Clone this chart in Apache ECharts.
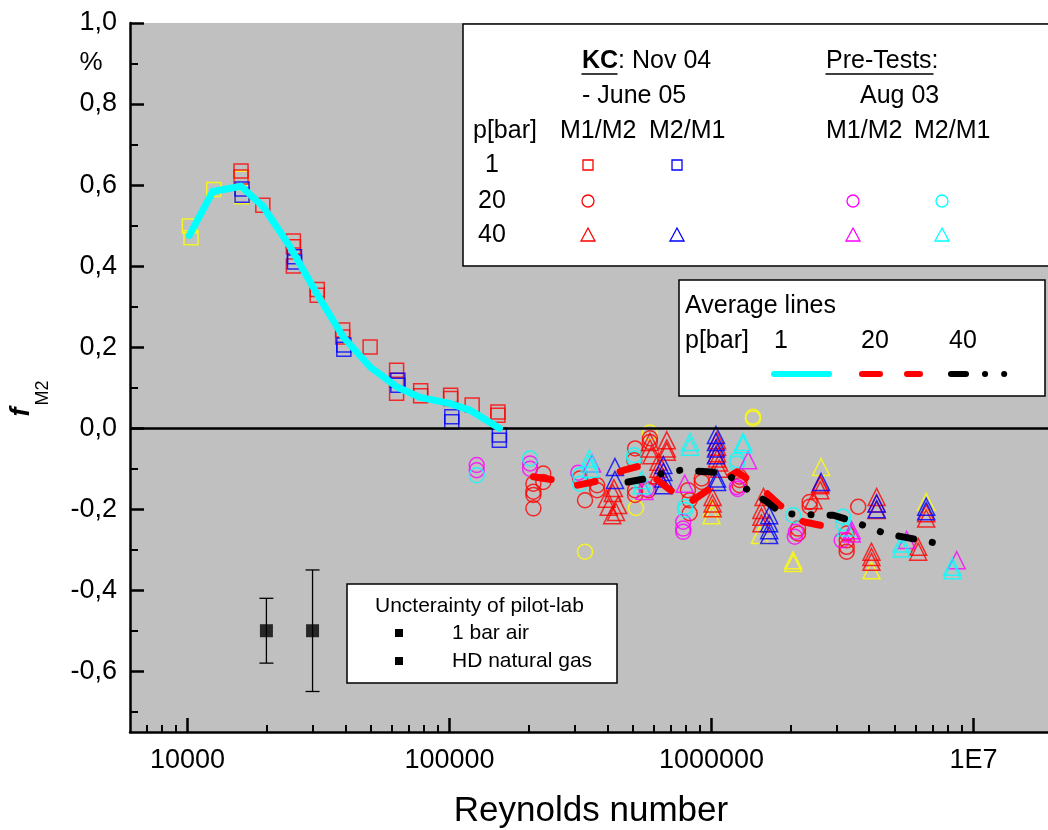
<!DOCTYPE html>
<html><head><meta charset="utf-8">
<script src="https://cdn.jsdelivr.net/npm/echarts@6/dist/echarts.min.js"></script>
<style>html,body{margin:0;padding:0;background:#fff}#c{width:1048px;height:830px}</style>
</head><body><div id="c"></div><script>
// ---------- axis ticks ----------
const xMajorTicks = [10000, 100000, 1000000, 10000000];
const xMinorTicks = [7000, 8000, 9000,
  20000, 30000, 40000, 50000, 60000, 70000, 80000, 90000,
  200000, 300000, 400000, 500000, 600000, 700000, 800000, 900000,
  2000000, 3000000, 4000000, 5000000, 6000000, 7000000, 8000000, 9000000];
const yMajorTicks = [-0.6, -0.4, -0.2, 0, 0.2, 0.4, 0.6, 0.8, 1.0];
const yMinorTicks = [-0.7, -0.5, -0.3, -0.1, 0.1, 0.3, 0.5, 0.7, 0.9];

// ---------- data: [Reynolds number, f_M2 (%)] ----------
const yellowSquares = [[10160,0.499],[10310,0.47],[12590,0.589],[16000,0.617],[16050,0.571]];
const kc1M1M2 = [[16000,0.635],[16000,0.62],[19380,0.55],[25350,0.462],[25350,0.448],[25350,0.40],
  [31260,0.342],[31260,0.328],[39100,0.242],[39100,0.225],[49760,0.20],[62800,0.143],[62800,0.118],
  [62800,0.086],[77600,0.092],[77600,0.08],[101000,0.081],[101000,0.073],[122000,0.057],[153000,0.04],[153000,0.032]];
const kc1M2M1 = [[16140,0.59],[16140,0.575],[25600,0.423],[25600,0.41],[39500,0.205],[39500,0.195],
  [63500,0.118],[63500,0.106],[102000,0.028],[102000,0.016],[155000,-0.017],[155000,-0.03]];
const kc20M1M2 = [[209000,-0.137],[209000,-0.157],[209000,-0.165],[209000,-0.198],[228000,-0.112],[228000,-0.133],
  [315000,-0.124],[329000,-0.178],[366000,-0.141],[366000,-0.153],[511000,-0.05],[507000,-0.079],
  [511000,-0.153],[511000,-0.165],[574000,-0.153],[582000,-0.025],[582000,-0.034],[813000,-0.153],
  [825000,-0.178],[825000,-0.21],[918000,-0.124],[918000,-0.133],[1280000,-0.12],[1280000,-0.128],
  [1280000,-0.141],[2140000,-0.248],[2140000,-0.26],[2370000,-0.182],[2370000,-0.194],[3630000,-0.194],
  [3280000,-0.26],[3280000,-0.277],[3280000,-0.293],[3280000,-0.305]];
const pre20M1M2 = [[127000,-0.091],[127000,-0.104],[203000,-0.087],[203000,-0.1],[310000,-0.11],[565000,-0.15],
  [780000,-0.231],[780000,-0.248],[780000,-0.256],[1250000,-0.145],[1260000,-0.15],[2080000,-0.268],
  [2100000,-0.256],[3140000,-0.277]];
const pre20M2M1 = [[127000,-0.116],[203000,-0.075],[315000,-0.116],[315000,-0.137],[507000,-0.067],[507000,-0.075],
  [793000,-0.194],[793000,-0.202],[1250000,-0.079],[1250000,-0.087],[2050000,-0.215],[3180000,-0.219],[3180000,-0.235]];
const kc40M1M2 = [[398000,-0.174],[405000,-0.194],[418000,-0.215],[432000,-0.207],[440000,-0.19],[420000,-0.16],
  [424000,-0.148],[582000,-0.034],[582000,-0.05],[590000,-0.067],[627000,-0.083],[627000,-0.1],[627000,-0.116],
  [675000,-0.03],[675000,-0.05],[675000,-0.058],[1050000,-0.03],[1050000,-0.046],[1050000,-0.062],
  [1050000,-0.075],[1070000,-0.085],[1070000,-0.1],[1010000,-0.17],[1010000,-0.186],[1010000,-0.198],
  [1580000,-0.17],[1550000,-0.202],[1550000,-0.219],[1550000,-0.235],[2450000,-0.178],[2600000,-0.137],
  [2600000,-0.141],[2600000,-0.153],[4080000,-0.305],[4080000,-0.318],[4080000,-0.33],[4270000,-0.17],
  [4270000,-0.186],[4270000,-0.202],[6150000,-0.293],[6150000,-0.305],[6600000,-0.21],[6600000,-0.223]];
const kc40M2M1 = [[428000,-0.096],[428000,-0.128],[655000,-0.091],[655000,-0.108],[655000,-0.124],[655000,-0.141],
  [1040000,-0.017],[1040000,-0.034],[1040000,-0.05],[1040000,-0.067],[1050000,-0.124],[1050000,-0.133],
  [1660000,-0.215],[1660000,-0.235],[1660000,-0.252],[1660000,-0.264],[2620000,-0.133],[4270000,-0.186],
  [4270000,-0.2],[6600000,-0.194],[6600000,-0.205]];
const pre40M1M2 = [[350000,-0.087],[555000,-0.155],[790000,-0.137],[1380000,-0.079],[3430000,-0.252],
  [3430000,-0.26],[5560000,-0.276],[8630000,-0.326]];
const pre40M2M1 = [[342000,-0.075],[342000,-0.087],[345000,-0.1],[542000,-0.128],[542000,-0.141],[828000,-0.034],
  [828000,-0.046],[1320000,-0.034],[1320000,-0.04],[3250000,-0.245],[5320000,-0.285],[5320000,-0.297],
  [8300000,-0.342],[8300000,-0.351]];
const yellowCircles = [[329000,-0.305],[515000,-0.197],[582000,-0.011],[1440000,0.024],[1440000,0.028]];
const yellowTriangles = [[1000000,-0.198],[1000000,-0.215],[1530000,-0.264],[2050000,-0.326],[2050000,-0.333],
  [2620000,-0.096],[4080000,-0.351],[6600000,-0.182]];

// average lines
const avg1bar = [[10160,0.476],[12470,0.584],[16000,0.597],[19490,0.546],[24600,0.448],[31100,0.333],
  [39300,0.225],[49800,0.151],[62800,0.102],[77200,0.076],[100000,0.061],[120000,0.044],[155000,0.0]];
const avg20bar = [[209000,-0.12],[253000,-0.128],[306000,-0.141],[386000,-0.128],[460000,-0.104],[549000,-0.091],
  [557000,-0.104],[684000,-0.149],[815000,-0.186],[986000,-0.149],[1250000,-0.108],[1530000,-0.145],
  [1820000,-0.19],[2240000,-0.231],[2710000,-0.242]];
const avg40bar = [[480000,-0.133],[570000,-0.124],[660000,-0.11],[760000,-0.104],[1000000,-0.108],[1150000,-0.114],
  [1350000,-0.149],[1630000,-0.182],[1850000,-0.211],[2500000,-0.214],[2920000,-0.215],[3430000,-0.229],
  [4600000,-0.26],[7100000,-0.283]];

// pilot-lab uncertainty
const pilotRe = [20000, 30000];
const pilotValue = [-0.5, -0.5];
const pilotError = [0.08, 0.15];

// ---------- chart ----------
const FONT = '"Liberation Sans", Arial, sans-serif';
const X_MIN = 6030, X_MAX = 19250000;
const DASH20 = [18, 27];
const DASH40 = [15, 19, 0.1, 19, 0.1, 19];
const chart = echarts.init(document.getElementById('c'), null, {renderer: 'canvas'});

function scat(name, data, symbol, color, size) {
  return {type: 'scatter', name, data, symbol, symbolSize: size, silent: true, z: 3,
    itemStyle: {color: 'rgba(0,0,0,0)', borderColor: color, borderWidth: 1.5}};
}
function avgLine(name, data, color, dash) {
  return {type: 'line', name, data, symbol: 'none', showSymbol: false, silent: true, z: 5,
    lineStyle: {color, width: 7, type: dash, cap: 'round', join: 'round'}};
}

const txt = (x, y, text, size, extra) => ({type: 'text', x, y, z: 101,
  style: Object.assign({text, font: size + 'px ' + FONT, fill: '#000', align: 'left', verticalAlign: 'middle'}, extra || {})});
const sq = (cx, cy, color) => ({type: 'rect', z: 101, shape: {x: cx - 5, y: cy - 5, width: 10, height: 10},
  style: {fill: 'none', stroke: color, lineWidth: 1.3}});
const ci = (cx, cy, color) => ({type: 'circle', z: 101, shape: {cx, cy, r: 6},
  style: {fill: 'none', stroke: color, lineWidth: 1.3}});
const tri = (cx, cy, color) => ({type: 'polygon', z: 101, shape: {points: [[cx, cy - 7], [cx + 7, cy + 6], [cx - 7, cy + 6]]},
  style: {fill: 'none', stroke: color, lineWidth: 1.3}});
const ln = (x1, y1, x2, y2, stroke, w, dash) => ({type: 'line', z: 101, shape: {x1, y1, x2, y2},
  style: {stroke, lineWidth: w, lineDash: dash || null, lineCap: 'round'}});

const option = {
  animation: false,
  backgroundColor: '#fff',
  textStyle: {fontFamily: FONT},
  grid: {left: 130, top: 23, right: 0, bottom: 98, show: true, backgroundColor: '#C0C0C0', borderWidth: 0},
  xAxis: [{
    type: 'log', min: X_MIN, max: X_MAX, position: 'bottom',
    axisLine: {show: true, onZero: false, lineStyle: {color: '#000', width: 2.5}},
    axisTick: {show: true, inside: true, length: 14, lineStyle: {color: '#000', width: 2.5}, customValues: xMajorTicks},
    axisLabel: {show: true, customValues: xMajorTicks, color: '#000', fontSize: 27, fontFamily: FONT, margin: 15,
      formatter: v => (v >= 1e7 ? '1E7' : String(Math.round(v)))},
    splitLine: {show: false}, minorTick: {show: false}
  }, {
    type: 'log', min: X_MIN, max: X_MAX, position: 'bottom', gridIndex: 0,
    axisLine: {show: false, onZero: false},
    axisTick: {show: true, inside: true, length: 7, lineStyle: {color: '#000', width: 2}, customValues: xMinorTicks},
    axisLabel: {show: false, customValues: xMinorTicks},
    splitLine: {show: false}
  }],
  yAxis: [{
    type: 'value', min: -0.75, max: 1.0, position: 'left',
    axisLine: {show: true, onZero: false, lineStyle: {color: '#000', width: 2.5}},
    axisTick: {show: true, inside: true, length: 14, lineStyle: {color: '#000', width: 2.5}, customValues: yMajorTicks},
    axisLabel: {show: true, customValues: yMajorTicks, color: '#000', fontSize: 27, fontFamily: FONT, margin: 13,
      formatter: v => v.toFixed(1).replace('.', ',')},
    splitLine: {show: false}
  }, {
    type: 'value', min: -0.75, max: 1.0, position: 'left', gridIndex: 0,
    axisLine: {show: false, onZero: false},
    axisTick: {show: true, inside: true, length: 8, lineStyle: {color: '#000', width: 2}, customValues: yMinorTicks},
    axisLabel: {show: false, customValues: yMinorTicks},
    splitLine: {show: false}
  }],
  series: [
    scat('Pre 1 bar', yellowSquares, 'rect', '#FFFF00', 14),
    scat('Pre 20 bar', yellowCircles, 'circle', '#FFFF00', 15),
    scat('Pre 40 bar', yellowTriangles, 'triangle', '#FFFF00', 17),
    scat('KC 1 bar M1/M2', kc1M1M2, 'rect', '#FF0000', 14),
    scat('KC 1 bar M2/M1', kc1M2M1, 'rect', '#0000FF', 14),
    scat('KC 20 bar M1/M2', kc20M1M2, 'circle', '#FF0000', 15),
    scat('Pre 20 bar M1/M2', pre20M1M2, 'circle', '#FF00FF', 15),
    scat('Pre 20 bar M2/M1', pre20M2M1, 'circle', '#00FFFF', 15),
    scat('KC 40 bar M1/M2', kc40M1M2, 'triangle', '#FF0000', 17),
    scat('KC 40 bar M2/M1', kc40M2M1, 'triangle', '#0000FF', 17),
    scat('Pre 40 bar M1/M2', pre40M1M2, 'triangle', '#FF00FF', 17),
    scat('Pre 40 bar M2/M1', pre40M2M1, 'triangle', '#00FFFF', 17),
    Object.assign(avgLine('Average 1 bar', avg1bar, '#00FFFF', 'solid'), {
      markLine: {silent: true, symbol: ['none', 'none'], label: {show: false},
        lineStyle: {color: '#000', width: 2.5, type: 'solid', cap: 'butt'}, data: [{yAxis: 0}]}
    }),
    avgLine('Average 20 bar', avg20bar, '#FF0000', DASH20),
    avgLine('Average 40 bar', avg40bar, '#000000', DASH40),
    {
      type: 'custom', name: 'Uncertainty', silent: true, z: 4,
      data: pilotRe.map((r, i) => [r, pilotValue[i], pilotError[i]]),
      renderItem: function (params, api) {
        const x = api.value(0), y = api.value(1), e = api.value(2);
        const top = api.coord([x, y + e]), bot = api.coord([x, y - e]);
        const st = {stroke: '#000', lineWidth: 1.3};
        return {type: 'group', children: [
          {type: 'line', shape: {x1: top[0], y1: top[1], x2: bot[0], y2: bot[1]}, style: st},
          {type: 'line', shape: {x1: top[0] - 7, y1: top[1], x2: top[0] + 7, y2: top[1]}, style: st},
          {type: 'line', shape: {x1: bot[0] - 7, y1: bot[1], x2: bot[0] + 7, y2: bot[1]}, style: st}
        ]};
      }
    },
    {type: 'scatter', name: 'Pilot-lab', silent: true, z: 5, symbol: 'rect', symbolSize: 13,
      data: pilotRe.map((r, i) => [r, pilotValue[i]]), itemStyle: {color: '#000'}}
  ],
  graphic: [
    // axis titles
    txt(91, 63, '%', 26, {align: 'center'}),
    {type: 'text', x: 22, y: 412, rotation: Math.PI / 2, z: 101,
      style: {text: 'f', font: 'italic bold 27px ' + FONT, fill: '#000', align: 'center', verticalAlign: 'middle'}},
    {type: 'text', x: 43, y: 393, rotation: Math.PI / 2, z: 101,
      style: {text: 'M2', font: '18px ' + FONT, fill: '#000', align: 'center', verticalAlign: 'middle'}},
    txt(591, 811, 'Reynolds number', 35, {align: 'center'}),
    // legend 1
    {type: 'rect', z: 100, shape: {x: 463, y: 24, width: 620, height: 242}, style: {fill: '#fff', stroke: '#000', lineWidth: 1.5}},
    {type: 'text', x: 582, y: 61, z: 101, style: {text: '{b|KC}: Nov 04', fontSize: 25, fontFamily: FONT, fill: '#000',
      verticalAlign: 'middle', rich: {b: {fontWeight: 'bold', fontSize: 25, fontFamily: FONT}}}},
    ln(582, 74, 617, 74, '#000', 1.5),
    txt(582, 96, '- June 05', 25),
    txt(826, 61, 'Pre-Tests:', 25),
    ln(826, 74, 933, 74, '#000', 1.5),
    txt(860, 96, 'Aug 03', 25),
    txt(473, 131, 'p[bar]', 25),
    txt(560, 131, 'M1/M2', 25), txt(649, 131, 'M2/M1', 25),
    txt(826, 131, 'M1/M2', 25), txt(914, 131, 'M2/M1', 25),
    txt(492, 165, '1', 25, {align: 'center'}),
    txt(492, 201, '20', 25, {align: 'center'}),
    txt(492, 235, '40', 25, {align: 'center'}),
    sq(588, 165, '#FF0000'), sq(677, 165, '#0000FF'),
    ci(588, 201, '#FF0000'), ci(853, 201, '#FF00FF'), ci(942, 201, '#00FFFF'),
    tri(588, 235, '#FF0000'), tri(677, 235, '#0000FF'), tri(853, 235, '#FF00FF'), tri(942, 235, '#00FFFF'),
    // legend 2
    {type: 'rect', z: 100, shape: {x: 679, y: 280, width: 366, height: 116}, style: {fill: '#fff', stroke: '#000', lineWidth: 1.5}},
    txt(685, 306, 'Average lines', 25),
    txt(685, 341, 'p[bar]', 25),
    txt(774, 341, '1', 25), txt(861, 341, '20', 25), txt(949, 341, '40', 25),
    ln(774, 374, 829, 374, '#00FFFF', 6),
    ln(862, 374, 920, 374, '#FF0000', 6, DASH20),
    ln(951, 374, 1005, 374, '#000000', 6, DASH40),
    // legend 3
    {type: 'rect', z: 100, shape: {x: 347, y: 584, width: 270, height: 99}, style: {fill: '#fff', stroke: '#000', lineWidth: 1.5}},
    txt(375, 606, 'Uncterainty of pilot-lab', 21),
    {type: 'rect', z: 101, shape: {x: 395, y: 629, width: 8, height: 8}, style: {fill: '#000'}},
    txt(452, 633, '1 bar air', 21),
    {type: 'rect', z: 101, shape: {x: 395, y: 657, width: 8, height: 8}, style: {fill: '#000'}},
    txt(452, 661, 'HD natural gas', 21)
  ]
};
chart.setOption(option);
</script></body></html>
